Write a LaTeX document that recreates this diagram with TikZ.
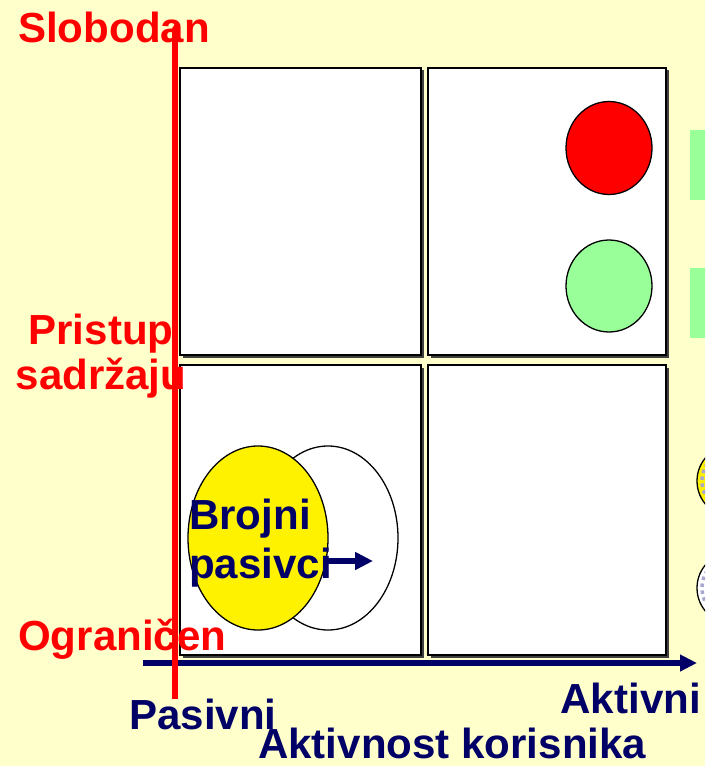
\documentclass[tikz,border=0pt]{standalone}
\usepackage{fontspec}
\setmainfont{Liberation Sans}
\usetikzlibrary{arrows.meta, positioning, calc}
\definecolor{pozadina}{HTML}{FFFFCC}
\definecolor{tamnoplava}{HTML}{000066}
\definecolor{svetlozelena}{HTML}{99FF99}
\definecolor{senka}{HTML}{404040}
\definecolor{lila}{HTML}{A8A8D0}

\tikzset{
  kvadrant/.style={draw=black, fill=white, line width=1.1pt},
  krug/.style={draw=black, line width=1.1pt},
  crvenitekst/.style={text=red, inner sep=0pt, font=\bfseries\fontsize{35.9}{38.4}\selectfont},
  plavitekst/.style={text=tamnoplava, inner sep=0pt, font=\bfseries\fontsize{35.9}{41}\selectfont},
  crvenaosa/.style={draw=red, line width=4.3pt, -{Triangle[length=7pt, width=9pt]}},
  plavaosa/.style={draw=tamnoplava, line width=5.1pt, -{Triangle[length=14.5pt, width=13.6pt]}},
}

\begin{document}
\begin{tikzpicture}[x=0.03cm, y=-0.03cm, >=Triangle]

% --- Pozadina slajda
\useasboundingbox (0,0) rectangle (705,766);
\clip (0,0) rectangle (705,766);
\fill[pozadina] (0,0) rectangle (705,766);

% --- Delimicno vidljivi oblici uz desnu ivicu
\fill[svetlozelena] (690,130) rectangle (712,200);
\fill[svetlozelena] (690,268) rectangle (712,338);
\draw[krug, fill=yellow] (733,481) circle (36);
\draw[lila, line width=3pt, dashed] (733,481) circle (31);
\draw[krug, fill=white] (733,588) circle (36);
\draw[lila, line width=3pt, dashed] (733,588) circle (31);

% --- Cetiri kvadranta (sa senkom)
\foreach \xa/\xb/\ya/\yb in {180/421/68/355, 428/666/68/355, 180/421/365/655, 428/666/365/655}{
  \fill[senka] (\xa+2.5,\ya+2.5) rectangle (\xb+2.5,\yb+2.5);
  \draw[kvadrant] (\xa,\ya) rectangle (\xb,\yb);
}

% --- Semafor: crveno i zeleno
\draw[krug, fill=red] (609,148) ellipse [x radius=43, y radius=46.5];
\draw[krug, fill=svetlozelena] (609,286) ellipse [x radius=43, y radius=46];

% --- Brojni pasivci
\draw[krug, fill=white] (328,538) ellipse [x radius=70, y radius=92];
\draw[krug, fill=yellow] (258,538) ellipse [x radius=70, y radius=92];
\coordinate (pomakOd) at (325,561);
\coordinate (pomakDo) at (373,561);
\draw[draw=tamnoplava, line width=4.3pt, -{Triangle[length=15.3pt, width=14.5pt]}] (pomakOd) -- (pomakDo);
\node[plavitekst, align=left, anchor=base west] (brojni) at (189,578) {Brojni\\pasivci};

% --- Osa: aktivnost korisnika
\coordinate (plaviLevo) at (143,663);
\coordinate (plaviDesno) at (697,663);
\draw[plavaosa] (plaviLevo) -- (plaviDesno);

% --- Osa: pristup sadrzaju
\coordinate (crveniDole) at (175,699);
\coordinate (crveniGore) at (175,24);
\draw[crvenaosa] (crveniDole) -- (crveniGore);

% --- Natpisi na osama
\node[crvenitekst, anchor=base west] (slobodan) at (18,43) {Slobodan};
\node[crvenitekst, align=center, anchor=base] (pristup) at (101,389) {Pristup\\sadržaju};
\node[crvenitekst, anchor=base west] (ogranicen) at (18,650) {Ograničen};
\node[plavitekst, anchor=base west] (pasivni) at (129,729) {Pasivni};
\node[plavitekst, anchor=base east] (aktivni) at (701,713) {Aktivni};
\node[plavitekst, anchor=base west] (aktivnost) at (258,758) {Aktivnost korisnika};
\end{tikzpicture}
\end{document}
